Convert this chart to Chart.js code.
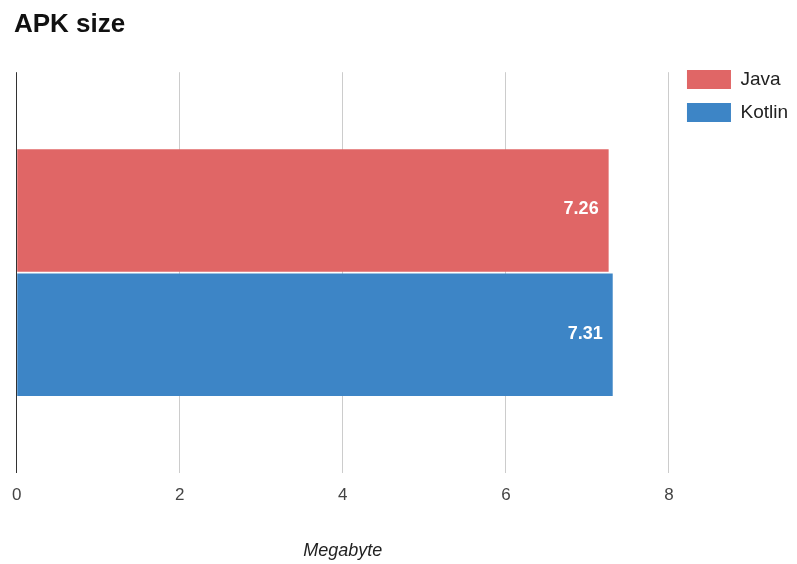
<!DOCTYPE html>
<html>
<head>
<meta charset="utf-8">
<script src="https://cdn.jsdelivr.net/npm/chart.js@4/dist/chart.umd.min.js"></script>
<style>
  html, body { margin: 0; padding: 0; background: #fff; }
  #wrap { width: 797px; height: 564px; position: relative; }
</style>
</head>
<body>
<div id="wrap"><canvas id="chart"></canvas></div>
<script>
const categories = ["APK size"];
const seriesNames = ["Java", "Kotlin"];
const javaValues = [7.26];
const kotlinValues = [7.31];
const xTicks = [0, 2, 4, 6, 8];
const seriesColors = ["#e06666", "#3d85c6"];

const FONT = "Arial, 'Liberation Sans', sans-serif";

// white value labels just inside the end of each bar
const valueLabels = {
  id: "valueLabels",
  afterDatasetsDraw(chart) {
    const ctx = chart.ctx;
    ctx.save();
    ctx.fillStyle = "#ffffff";
    ctx.font = "bold 18px " + FONT;
    ctx.textAlign = "right";
    ctx.textBaseline = "middle";
    chart.data.datasets.forEach((ds, i) => {
      chart.getDatasetMeta(i).data.forEach((bar, j) => {
        ctx.fillText(ds.data[j].toFixed(2), bar.x - 10, bar.y - 1);
      });
    });
    ctx.restore();
  },
};

// nudge the legend a bit away from the plot
const legendGap = {
  id: "legendGap",
  afterLayout(chart) {
    if (chart.legend) chart.legend.left += 4;
  },
};

new Chart(document.getElementById("chart"), {
  type: "bar",
  data: {
    labels: categories,
    datasets: [
      { label: seriesNames[0], data: javaValues, backgroundColor: seriesColors[0] },
      { label: seriesNames[1], data: kotlinValues, backgroundColor: seriesColors[1] },
    ],
  },
  options: {
    indexAxis: "y",
    responsive: true,
    maintainAspectRatio: false,
    animation: false,
    categoryPercentage: 0.62,
    barPercentage: 0.985,
    layout: { padding: { left: 14, right: 3, top: 8, bottom: 0 } },
    plugins: {
      title: {
        display: true,
        text: "APK size",
        align: "start",
        color: "#111",
        font: { family: FONT, size: 26, weight: "bold" },
        padding: { top: 1, bottom: 32 },
      },
      legend: {
        position: "right",
        align: "start",
        title: { display: true, text: " ", font: { size: 10 }, padding: { top: 36, bottom: 0 } },
        labels: {
          boxWidth: 44,
          boxHeight: 19,
          padding: 14,
          color: "#222",
          font: { family: FONT, size: 19 },
        },
      },
      tooltip: { enabled: false },
    },
    scales: {
      x: {
        min: 0,
        max: 8,
        afterBuildTicks: (axis) => { axis.ticks = xTicks.map((v) => ({ value: v })); },
        grid: {
          color: (c) => (c.tick && c.tick.value === 0 ? "#333" : "#cccccc"),
          drawTicks: false,
          lineWidth: 1,
        },
        border: { display: false },
        ticks: { color: "#444", padding: 12, font: { family: FONT, size: 17 } },
        title: {
          display: true,
          text: "Megabyte",
          color: "#222",
          padding: { top: 23, bottom: 2 },
          font: { family: FONT, size: 18, style: "italic" },
        },
      },
      y: {
        display: false,
      },
    },
  },
  plugins: [valueLabels, legendGap],
});
</script>
</body>
</html>
